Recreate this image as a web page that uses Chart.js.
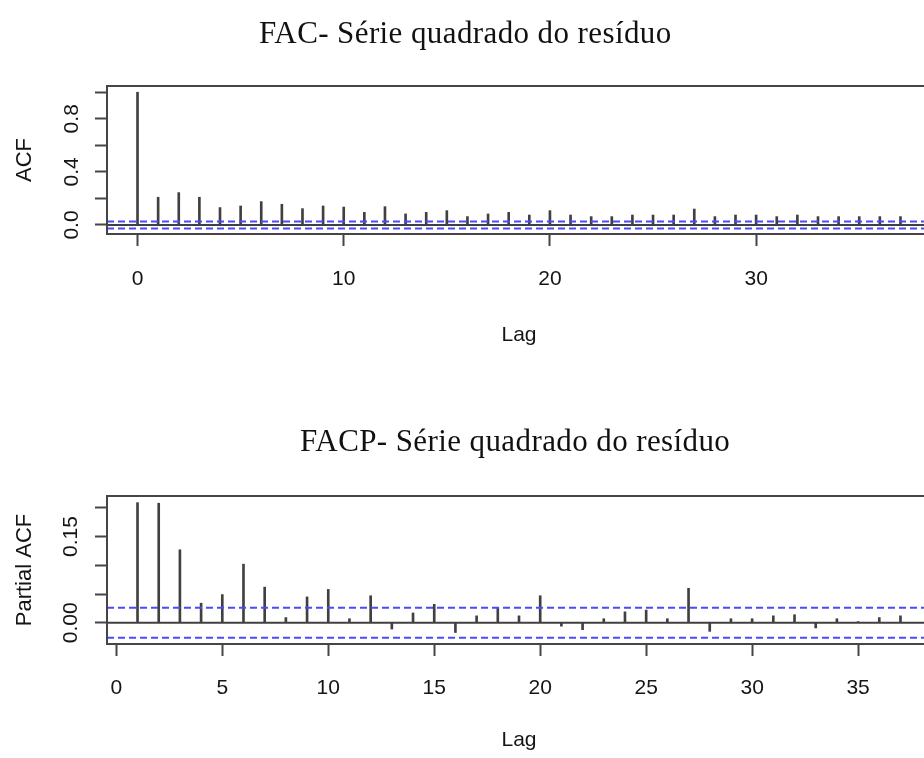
<!DOCTYPE html>
<html lang="pt">
<head>
<meta charset="UTF-8" />
<title>FAC / FACP - quadrado do resíduo</title>
<script src="https://cdn.jsdelivr.net/npm/chart.js"></script>
<style>
  html, body { margin: 0; padding: 0; background: #fff; overflow: hidden; }
  body { width: 924px; height: 758px; position: relative; }
  .titulo {
    position: absolute; z-index: 2; white-space: nowrap; color: #111;
    font-family: "Liberation Serif", "Times New Roman", serif;
    font-size: 31px; line-height: 31px; letter-spacing: 0.4px;
  }
  canvas { position: absolute; left: 0; }
</style>
</head>
<body>
<div class="titulo" style="left:259px; top:17px;">FAC- Série quadrado do resíduo</div>
<canvas id="facChart" width="940" height="360" style="top:0"></canvas>
<div class="titulo" style="left:300px; top:425px;">FACP- Série quadrado do resíduo</div>
<canvas id="facpChart" width="940" height="358" style="top:400px"></canvas>

<script>
  // FAC (ACF) do quadrado do resíduo
  const lagsFac = [0, 1, 2, 3, 4, 5, 6, 7, 8, 9, 10, 11, 12, 13, 14, 15, 16, 17, 18, 19,
                   20, 21, 22, 23, 24, 25, 26, 27, 28, 29, 30, 31, 32, 33, 34, 35, 36, 37];
  const valoresFac = [1.000, 0.209, 0.244, 0.209, 0.131, 0.143, 0.176, 0.156, 0.123, 0.143,
                      0.135, 0.095, 0.138, 0.083, 0.095, 0.108, 0.063, 0.083, 0.095, 0.075,
                      0.108, 0.075, 0.063, 0.063, 0.075, 0.075, 0.075, 0.120, 0.063, 0.075,
                      0.075, 0.063, 0.075, 0.063, 0.063, 0.063, 0.063, 0.063];
  const ticksFacX = [0, 10, 20, 30];
  const ticksFacY = [0, 0.2, 0.4, 0.6, 0.8, 1.0];
  const rotulosFacY = ['0.0', '', '0.4', '', '0.8', ''];

  // FACP (PACF)
  const lagsFacp = [1, 2, 3, 4, 5, 6, 7, 8, 9, 10, 11, 12, 13, 14, 15, 16, 17, 18, 19,
                    20, 21, 22, 23, 24, 25, 26, 27, 28, 29, 30, 31, 32, 33, 34, 35, 36, 37];
  const valoresFacp = [0.209, 0.208, 0.127, 0.034, 0.049, 0.102, 0.062, 0.009, 0.045, 0.058,
                       0.007, 0.047, -0.011, 0.017, 0.032, -0.017, 0.012, 0.026, 0.012, 0.047,
                       -0.006, -0.012, 0.007, 0.019, 0.022, 0.007, 0.060, -0.015, 0.007, 0.007,
                       0.012, 0.014, -0.009, 0.007, 0.002, 0.009, 0.012];
  const ticksFacpX = [0, 5, 10, 15, 20, 25, 30, 35];
  const ticksFacpY = [0, 0.05, 0.10, 0.15, 0.20];
  const rotulosFacpY = ['0.00', '', '', '0.15', ''];

  // intervalo de confiança (1.96/sqrt(n))
  const limiteIC = 0.026;

  const corEixo = '#454545';
  const corTexto = '#151515';
  Chart.defaults.font.family = '"Liberation Sans", Arial, sans-serif';

  // moldura em volta da área do gráfico (como o box() do R)
  const moldura = {
    id: 'moldura',
    afterDraw(chart) {
      const { ctx, chartArea: a } = chart;
      ctx.save();
      ctx.strokeStyle = corEixo;
      ctx.lineWidth = 2;
      ctx.strokeRect(a.left, a.top, a.right - a.left, a.bottom - a.top);
      ctx.restore();
    }
  };

  function linha(y, x0, x1, cor, tracejado, ordem) {
    return {
      type: 'line',
      data: [{ x: x0, y: y }, { x: x1, y: y }],
      borderColor: cor,
      borderWidth: 2,
      borderDash: tracejado ? [7, 4] : [],
      pointRadius: 0,
      order: ordem
    };
  }

  function correlograma(id, lags, valores, xTicks, yTicks, yRotulos, xMin, xMax, yMin, yMax, yTitulo, pos) {
    const ctx = document.getElementById(id).getContext('2d');
    return new Chart(ctx, {
      type: 'bar',
      data: {
        datasets: [
          {
            data: lags.map((l, i) => ({ x: l, y: valores[i] })),
            backgroundColor: '#404040',
            borderWidth: 0,
            barThickness: 2,
            order: 3
          },
          linha(0, xMin, xMax, '#404040', false, 2),
          linha(limiteIC, xMin, xMax, '#4a4aff', true, 1),
          linha(-limiteIC, xMin, xMax, '#4a4aff', true, 1)
        ]
      },
      options: {
        responsive: false,
        animation: false,
        layout: { padding: { top: pos.top, right: 9, left: 0, bottom: 0 } },
        plugins: { legend: { display: false }, tooltip: { enabled: false } },
        scales: {
          x: {
            type: 'linear',
            min: xMin,
            max: xMax,
            offset: false,
            afterBuildTicks: s => { s.ticks = xTicks.map(v => ({ value: v })); },
            afterFit: s => { s.height = pos.xAltura; },
            grid: { offset: false, drawOnChartArea: false, tickLength: 12, tickWidth: 2, tickColor: corEixo },
            border: { display: true, color: corEixo, width: 2 },
            ticks: {
              autoSkip: false, maxRotation: 0, padding: pos.xPad,
              color: corTexto, font: { size: 21 },
              callback: v => String(v)
            },
            title: {
              display: true, text: 'Lag', color: corTexto,
              font: { size: 21 }, padding: { top: 0, bottom: pos.lagPad }
            }
          },
          y: {
            min: yMin,
            max: yMax,
            afterBuildTicks: s => { s.ticks = yTicks.map(v => ({ value: v })); },
            afterFit: s => { s.width = 107; },
            grid: { drawOnChartArea: false, tickLength: 12, tickWidth: 2, tickColor: corEixo },
            border: { display: true, color: corEixo, width: 2 },
            ticks: {
              autoSkip: false, minRotation: 90, maxRotation: 90, crossAlign: 'center',
              padding: pos.yPad, color: corTexto, font: { size: 21 },
              callback: (v, i) => yRotulos[i]
            },
            title: {
              display: true, text: yTitulo, color: corTexto,
              font: { size: 22 }, padding: { top: 12, bottom: 0 }
            }
          }
        }
      },
      plugins: [moldura]
    });
  }

  correlograma('facChart', lagsFac, valoresFac, ticksFacX, ticksFacY, rotulosFacY,
    -1.48, 38.48, -0.068, 1.047, 'ACF',
    { top: 86, xAltura: 126, xPad: 21, lagPad: 12, yPad: 8 });

  correlograma('facpChart', lagsFacp, valoresFacp, ticksFacpX, ticksFacpY, rotulosFacpY,
    -0.44, 38.44, -0.037, 0.2206, 'Partial ACF',
    { top: 96, xAltura: 114, xPad: 20, lagPad: 5, yPad: 3 });
</script>
</body>
</html>
